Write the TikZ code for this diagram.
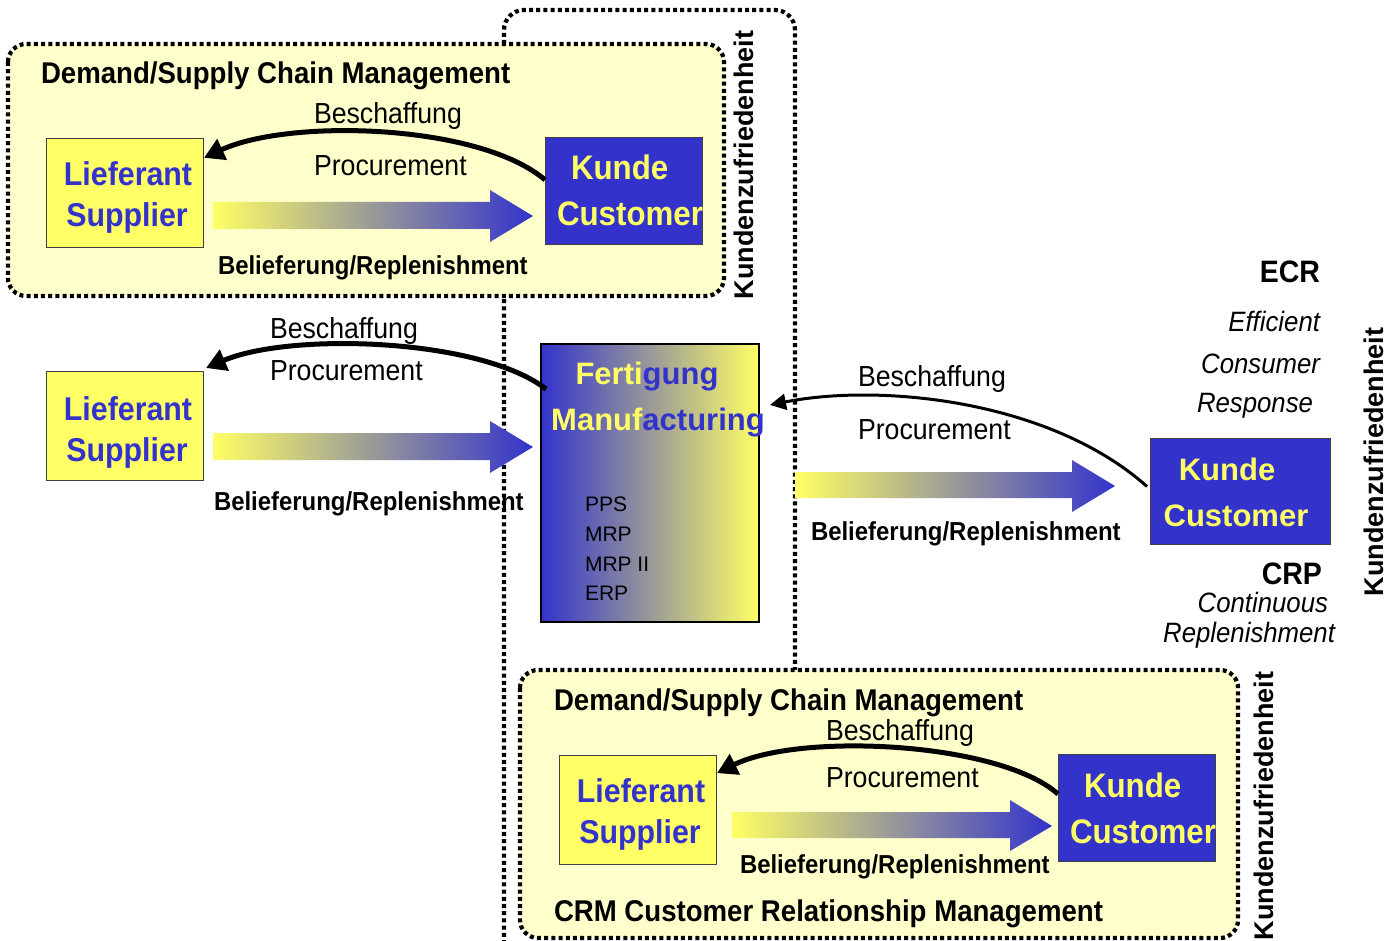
\documentclass[tikz,border=0pt]{standalone}
\usepackage{fontspec}
\setmainfont{Liberation Sans}
\newfontfamily\cf{Liberation Sans}[FakeStretch=0.92]
\usetikzlibrary{arrows.meta}
\definecolor{kblue}{HTML}{3333CC}
\definecolor{yyel}{HTML}{FFFF66}
\definecolor{lyel}{HTML}{FFFFCC}
\newcommand{\setfs}[1]{\fontsize{#1}{#1}\selectfont}
\tikzset{
  dotbox/.style={draw=black, line width=4.2pt, dash pattern=on 4pt off 3.2pt, fill=lyel, rounded corners=18pt},
  dotline/.style={draw=black, line width=4.2pt, dash pattern=on 4pt off 3.2pt, rounded corners=20pt},
  lbox/.style={draw=black!75, line width=1pt, fill=yyel, minimum width=157pt, minimum height=109pt, inner sep=0pt, anchor=north west},
  kbox/.style={draw=black!75, line width=1pt, fill=kblue, minimum width=157pt, minimum height=107pt, inner sep=0pt, anchor=north west},
  lbl/.style={inner sep=0pt, outer sep=0pt},
  ltxt/.style={lbl, anchor=base, text=kblue, font=\cf\bfseries\setfs{33}},
  ktxt/.style={lbl, anchor=base west, text=yyel, font=\cf\bfseries\setfs{34}},
  title/.style={lbl, anchor=base west, font=\cf\bfseries\setfs{30}},
  proc/.style={lbl, anchor=base west, font=\cf\setfs{29}},
  rep/.style={lbl, anchor=base west, font=\cf\bfseries\setfs{26}},
  kz/.style={lbl, rotate=90, font=\bfseries\setfs{27}},
  ital/.style={lbl, anchor=base east, font=\cf\itshape\setfs{28}},
  abbr/.style={lbl, anchor=base east, font=\cf\bfseries\setfs{31}},
  mrp/.style={lbl, anchor=base west, font=\setfs{21}},
  bigarrow/.style={left color=yyel, middle color=yyel!60!kblue, right color=kblue},
  curvearrow/.style={draw=black, line width=5pt, -{Triangle[length=20pt,width=22pt]}},
  thinarrow/.style={draw=black, line width=3pt, -{Triangle[length=16pt,width=16pt]}}
}
\begin{document}
\begin{tikzpicture}[x=1pt,y=-1pt]
\useasboundingbox[fill=white] (0,0) rectangle (1399,941);

% central column
\draw[dotline] (504,980) -- (504,10) -- (795,10) -- (795,672);

% ---------------- top block ----------------
\draw[dotbox] (8,44) rectangle (724,296);
\node[title] (t1) at (41,84) {Demand/Supply Chain Management};
\node[lbox] (lief1) at (46,138) {};
\node[kbox] (kunde1) at (545,137) {};
\node[ltxt] (lief1a) at (128,186) {Lieferant};
\node[ltxt] (lief1b) at (127,227) {Supplier};
\node[ktxt] (kunde1a) at (571,180) {Kunde};
\node[ktxt] (kunde1b) at (557,226) {Customer};
\shade[bigarrow] (213,202) -- (490,202) -- (490,190) -- (533,216) -- (490,242) -- (490,229) -- (213,229) -- cycle;
\draw[curvearrow] (kunde1.172) .. controls (480,124) and (290,118) .. (lief1.24);
\node[proc] (b1) at (314,124) {Beschaffung};
\node[proc] (p1) at (314,176) {Procurement};
\node[rep] (r1) at (218,274) {Belieferung/Replenishment};
\node[kz] (kz1) at (744,165) {Kundenzufriedenheit};

% ---------------- middle block ----------------
\node[lbox] (lief2) at (46,371) {};
\node[ltxt] (lief2a) at (128,420) {Lieferant};
\node[ltxt] (lief2b) at (127,461) {Supplier};
\shade[bigarrow] (213,433) -- (490,433) -- (490,421) -- (533,447) -- (490,473) -- (490,460) -- (213,460) -- cycle;
\node[draw=black, line width=2pt, left color=kblue, middle color=yyel!55!kblue, right color=yyel, minimum width=218pt, minimum height=278pt, inner sep=0pt, anchor=north west] (fert) at (540,343) {};
\node[lbl, anchor=base, font=\bfseries\setfs{31}] (fert1) at (647,384) {\textcolor{yyel}{Ferti}\textcolor{kblue}{gung}};
\node[lbl, anchor=base, font=\bfseries\setfs{31}] (fert2) at (658,430) {\textcolor{yyel}{Manuf}\textcolor{kblue}{acturing}};
\node[mrp] (m1) at (585,511) {PPS};
\node[mrp] (m2) at (585,541) {MRP};
\node[mrp] (m3) at (585,571) {MRP II};
\node[mrp] (m4) at (585,600) {ERP};
\draw[curvearrow] ([xshift=6pt,yshift=94pt]fert.west) .. controls (480,338) and (290,332) .. ([xshift=2pt,yshift=3pt]lief2.north east);
\node[proc] (b2) at (270,338) {Beschaffung};
\node[proc] (p2) at (270,380) {Procurement};
\node[rep] (r2) at (214,510) {Belieferung/Replenishment};

% ---------------- right block ----------------
\node[kbox, minimum width=180pt, minimum height=106pt] (kunde2) at (1150,438) {};
\node[lbl, anchor=base, text=yyel, font=\bfseries\setfs{31}] (kunde2a) at (1227,480) {Kunde};
\node[lbl, anchor=base, text=yyel, font=\bfseries\setfs{31}] (kunde2b) at (1236,526) {Customer};
\shade[bigarrow] (795,472) -- (1072,472) -- (1072,460) -- (1115,486) -- (1072,512) -- (1072,498) -- (795,498) -- cycle;
\draw[thinarrow] ([xshift=-3pt,yshift=5pt]kunde2.west) .. controls (1050,400) and (880,383) .. ([xshift=10pt,yshift=78pt]fert.east);
\node[proc] (b3) at (858,386) {Beschaffung};
\node[proc] (p3) at (858,439) {Procurement};
\node[rep] (r3) at (811,540) {Belieferung/Replenishment};
\node[abbr] (ecr) at (1320,283) {ECR};
\node[ital] (e1) at (1320,331) {Efficient};
\node[ital] (e2) at (1320,373) {Consumer};
\node[ital] (e3) at (1313,412) {Response};
\node[abbr] (crp) at (1322,584) {CRP};
\node[ital] (c1) at (1328,612) {Continuous};
\node[ital] (c2) at (1335,642) {Replenishment};
\node[kz] (kz2) at (1374,462) {Kundenzufriedenheit};

% ---------------- bottom block ----------------
\draw[dotbox] (520,670) rectangle (1238,938);
\node[title] (t3) at (554,710) {Demand/Supply Chain Management};
\node[lbox] (lief3) at (559,755) {};
\node[kbox] (kunde3) at (1058,754) {};
\node[ltxt] (lief3a) at (641,802) {Lieferant};
\node[ltxt] (lief3b) at (640,843) {Supplier};
\node[ktxt] (kunde3a) at (1084,797) {Kunde};
\node[ktxt] (kunde3b) at (1070,843) {Customer};
\shade[bigarrow] (732,812) -- (1010,812) -- (1010,800) -- (1052,826) -- (1010,851) -- (1010,838) -- (732,838) -- cycle;
\draw[curvearrow] (kunde3.170) .. controls (1000,742) and (800,732) .. (lief3.25);
\node[proc] (b4) at (826,740) {Beschaffung};
\node[proc] (p4) at (826,787) {Procurement};
\node[rep] (r4) at (740,873) {Belieferung/Replenishment};
\node[title] (crm) at (554,921) {CRM Customer Relationship Management};
\node[kz] (kz3) at (1264,806) {Kundenzufriedenheit};
\end{tikzpicture}
\end{document}
